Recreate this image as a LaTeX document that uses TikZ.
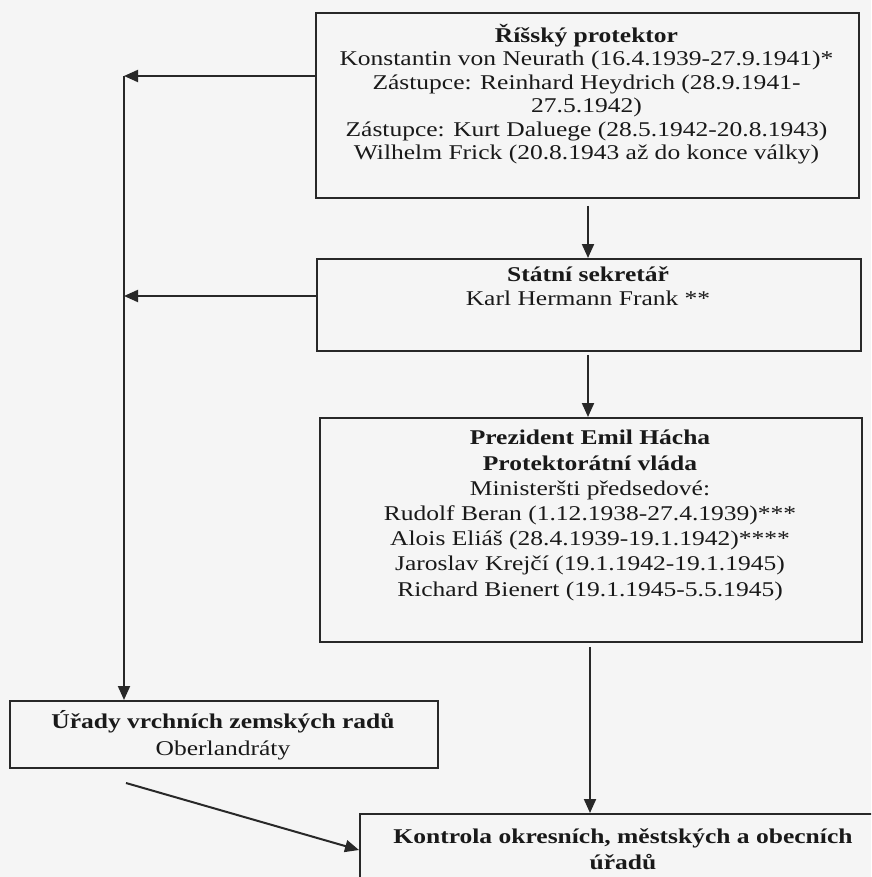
\documentclass[tikz,border=0pt]{standalone}
\usepackage{fontspec}
\setmainfont{Liberation Serif}[FakeStretch=1.215]
\usetikzlibrary{arrows.meta}
\definecolor{ink}{RGB}{25,25,25}
\definecolor{linec}{RGB}{40,40,40}
\definecolor{paper}{RGB}{245,245,245}
\begin{document}
\begin{tikzpicture}[x=1pt,y=-1pt,
  box/.style={draw=linec, line width=1.8pt, inner sep=0pt, anchor=north west},
  txt/.style={align=center, inner sep=0pt, text=ink, anchor=north},
  arr/.style={draw=linec, line width=2pt, -{Triangle[length=14pt,width=12pt]}}]
\fill[paper] (0,0) rectangle (871,877);
\useasboundingbox (0,0) rectangle (871,877);
\clip (0,0) rectangle (871,877);

% boxes
\node[box, minimum width=543pt, minimum height=185pt] (A) at (315,12) {};
\node[box, minimum width=544pt, minimum height=92pt] (B) at (316,258) {};
\node[box, minimum width=542pt, minimum height=224pt] (C) at (319,417) {};
\node[box, minimum width=428pt, minimum height=67pt] (D) at (9,700) {};
\node[box, minimum width=541pt, minimum height=100pt] (E) at (359,813) {};

% texts
\node[txt, font=\fontsize{21}{23.5}\selectfont] (At) at (586.5,22) {\rule{0pt}{20pt}\textbf{Říšský protektor}\\
Konstantin von Neurath (16.4.1939-27.9.1941)*\\
Zástupce: Reinhard Heydrich (28.9.1941-\\
27.5.1942)\\
Zástupce: Kurt Daluege (28.5.1942-20.8.1943)\\
Wilhelm Frick (20.8.1943 až do konce války)};

\node[txt, font=\fontsize{21}{24}\selectfont] (Bt) at (588,261) {\rule{0pt}{20pt}\textbf{Státní sekretář}\\
Karl Hermann Frank **};

\node[txt, font=\fontsize{21}{25.2}\selectfont] (Ct) at (590,424.6) {\rule{0pt}{20pt}\textbf{Prezident Emil Hácha}\\
\textbf{Protektorátní vláda}\\
Ministeršti předsedové:\\
Rudolf Beran (1.12.1938-27.4.1939)***\\
Alois Eliáš (28.4.1939-19.1.1942)****\\
Jaroslav Krejčí (19.1.1942-19.1.1945)\\
Richard Bienert (19.1.1945-5.5.1945)};

\node[txt, font=\fontsize{21}{27}\selectfont] (Dt) at (223,708) {\rule{0pt}{20pt}\textbf{Úřady vrchních zemských radů}\\
Oberlandráty};

\node[txt, font=\fontsize{21}{26}\selectfont] (Et) at (623,823) {\rule{0pt}{20pt}\textbf{Kontrola okresních, městských a obecních}\\
\textbf{úřadů}};

% connectors
\coordinate (T0) at (124,76);
\coordinate (T1) at (124,296);
\coordinate (Ds) at (126,783);
\draw[arr] (A.west |- T0) -- (T0);
\draw[arr] (B.west |- T1) -- (T1);
\draw[arr] (T0) -- (T0 |- D.north);
\draw[arr] ([yshift=-7pt]A.south -| 588,0) -- (B.north -| 588,0);
\draw[arr] ([yshift=-3pt]B.south -| 588,0) -- (C.north -| 588,0);
\draw[arr] ([yshift=-4pt]C.south -| 590,0) -- (E.north -| 590,0);
\draw[arr] (Ds) -- ([yshift=-37pt]E.north west);
\end{tikzpicture}
\end{document}
